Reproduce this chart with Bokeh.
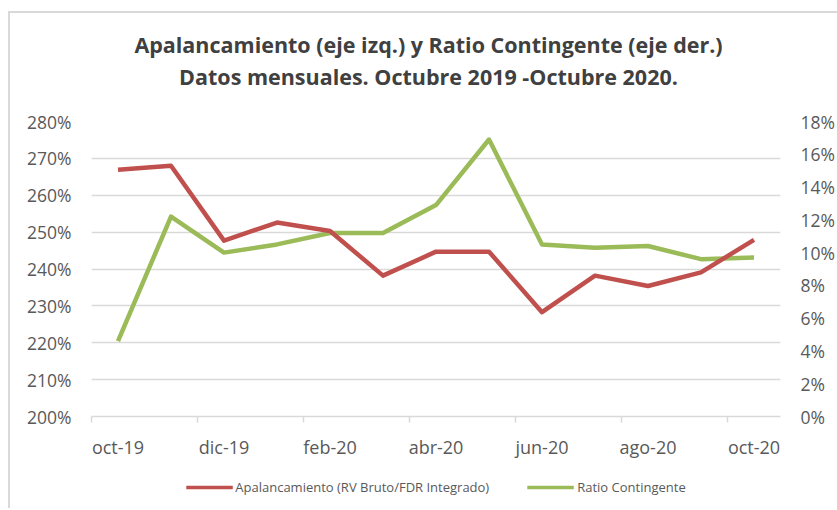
from bokeh.plotting import figure
from bokeh.layouts import column
from bokeh.models import (Range1d, LinearAxis, FixedTicker, PrintfTickFormatter,
                          Legend, LegendItem, Div)
from bokeh.embed import file_html
from bokeh.resources import INLINE

months = ["oct-19", "nov-19", "dic-19", "ene-20", "feb-20", "mar-20", "abr-20",
          "may-20", "jun-20", "jul-20", "ago-20", "sep-20", "oct-20"]
apalancamiento = [266.9, 268.0, 247.7, 252.6, 250.3, 238.2, 244.7, 244.7,
                  228.3, 238.2, 235.4, 239.1, 247.9]
ratio_contingente = [4.6, 12.2, 10.0, 10.5, 11.2, 11.2, 12.9, 16.9,
                     10.5, 10.3, 10.4, 9.6, 9.7]
left_ticks = [200, 210, 220, 230, 240, 250, 260, 270, 280]
right_ticks = [0, 2, 4, 6, 8, 10, 12, 14, 16, 18]
title1 = "Apalancamiento (eje izq.) y Ratio Contingente (eje der.)"
title2 = "Datos mensuales. Octubre 2019 -Octubre 2020."
name_a = "Apalancamiento (RV Bruto/FDR Integrado)"
name_b = "Ratio Contingente"

RED = "#C0504D"
GREEN = "#9BBB59"
TXT = "#595959"
GRID = "#D9D9D9"
FONT = "Open Sans"

xs = [i + 0.5 for i in range(len(months))]

W = 827
TH = 69
title_div = Div(text=f'<div style="position:relative;top:-5px;left:0px">'
                     f'{title1}<br>{title2}</div>',
                width=W, height=TH,
                styles={"font-family": FONT, "font-weight": "bold",
                        "font-size": "21.5px", "line-height": "32px",
                        "color": "#404040", "text-align": "center",
                        "padding-top": "16px",
                        "box-sizing": "border-box", "width": f"{W}px"})

p = figure(width=W, height=29 + 295 + 50, frame_width=689, frame_height=295,
           output_backend="svg", toolbar_location=None,
           x_range=Range1d(0, len(months)),
           y_range=Range1d(left_ticks[0], left_ticks[-1]),
           min_border_left=81, min_border_right=57,
           min_border_top=29, min_border_bottom=50)
p.outline_line_color = None
p.background_fill_color = "white"
p.border_fill_color = "white"

p.extra_y_ranges = {"r": Range1d(right_ticks[0], right_ticks[-1])}

# x axis
xa = p.xaxis[0]
xa.ticker = FixedTicker(ticks=xs[::2], minor_ticks=list(range(0, len(months), 2)))
xa.major_label_overrides = {xs[i]: months[i] for i in range(0, len(months), 2)}
xa.major_tick_out = 0
xa.major_tick_in = 0
xa.minor_tick_out = 6
xa.minor_tick_in = 0
xa.minor_tick_line_color = GRID
xa.minor_tick_line_width = 1.5
xa.axis_line_color = GRID
xa.axis_line_width = 1.5
xa.major_label_standoff = 12
xa.major_label_text_font = FONT
xa.major_label_text_font_size = "18px"
xa.major_label_text_color = TXT

# left axis
ya = p.yaxis[0]
ya.ticker = FixedTicker(ticks=left_ticks)
ya.formatter = PrintfTickFormatter(format="%d%%")
ya.axis_line_color = None
ya.major_tick_line_color = None
ya.minor_tick_line_color = None
ya.major_tick_out = 0
ya.minor_tick_out = 0
ya.major_label_standoff = 20
ya.major_label_text_font = FONT
ya.major_label_text_font_size = "17.5px"
ya.major_label_text_color = TXT

# right axis
ra = LinearAxis(y_range_name="r", ticker=FixedTicker(ticks=right_ticks),
                formatter=PrintfTickFormatter(format="%d%%"))
ra.axis_line_color = None
ra.major_tick_line_color = None
ra.minor_tick_line_color = None
ra.major_tick_out = 0
ra.minor_tick_out = 0
ra.major_label_standoff = 20
ra.major_label_text_font = FONT
ra.major_label_text_font_size = "17.5px"
ra.major_label_text_color = TXT
p.add_layout(ra, "right")

p.xgrid.visible = False
p.ygrid.ticker = FixedTicker(ticks=left_ticks)
p.ygrid.grid_line_color = GRID
p.ygrid.grid_line_width = 1.5

p.line(xs, ratio_contingente, y_range_name="r", line_color=GREEN,
       line_width=4.5, line_join="round")
p.line(xs, apalancamiento, line_color=RED, line_width=4.5, line_join="round")

# legend strip (same series, drawn outside its visible range; only the legend shows)
pl = figure(width=W, height=42, frame_width=689, frame_height=42,
            output_backend="svg", toolbar_location=None,
            x_range=Range1d(1000, 1001), y_range=Range1d(0, 1),
            min_border_left=79, min_border_right=59,
            min_border_top=0, min_border_bottom=0)
pl.axis.visible = False
pl.grid.visible = False
pl.outline_line_color = None
pl.background_fill_color = "white"
pl.border_fill_color = "white"
lr = pl.line(xs, apalancamiento, line_color=RED, line_width=3.5)
lg = pl.line(xs, ratio_contingente, line_color=GREEN, line_width=3.5)
legend = Legend(items=[LegendItem(label=name_a, renderers=[lr]),
                       LegendItem(label=name_b, renderers=[lg])],
                orientation="horizontal", location="center",
                glyph_width=47, glyph_height=12, label_standoff=3, spacing=38,
                label_text_font=FONT, label_text_font_size="13px",
                label_text_color=TXT, border_line_color=None,
                background_fill_alpha=0, margin=0, padding=4)
pl.add_layout(legend, "center")

layout = column(title_div, p, pl, spacing=0,
                styles={"border-left": "2px solid #D9D9D9",
                        "border-top": "2px solid #D9D9D9",
                        "margin-top": "11px", "margin-left": "8px"})

open("out.html", "w").write(file_html(layout, INLINE))
